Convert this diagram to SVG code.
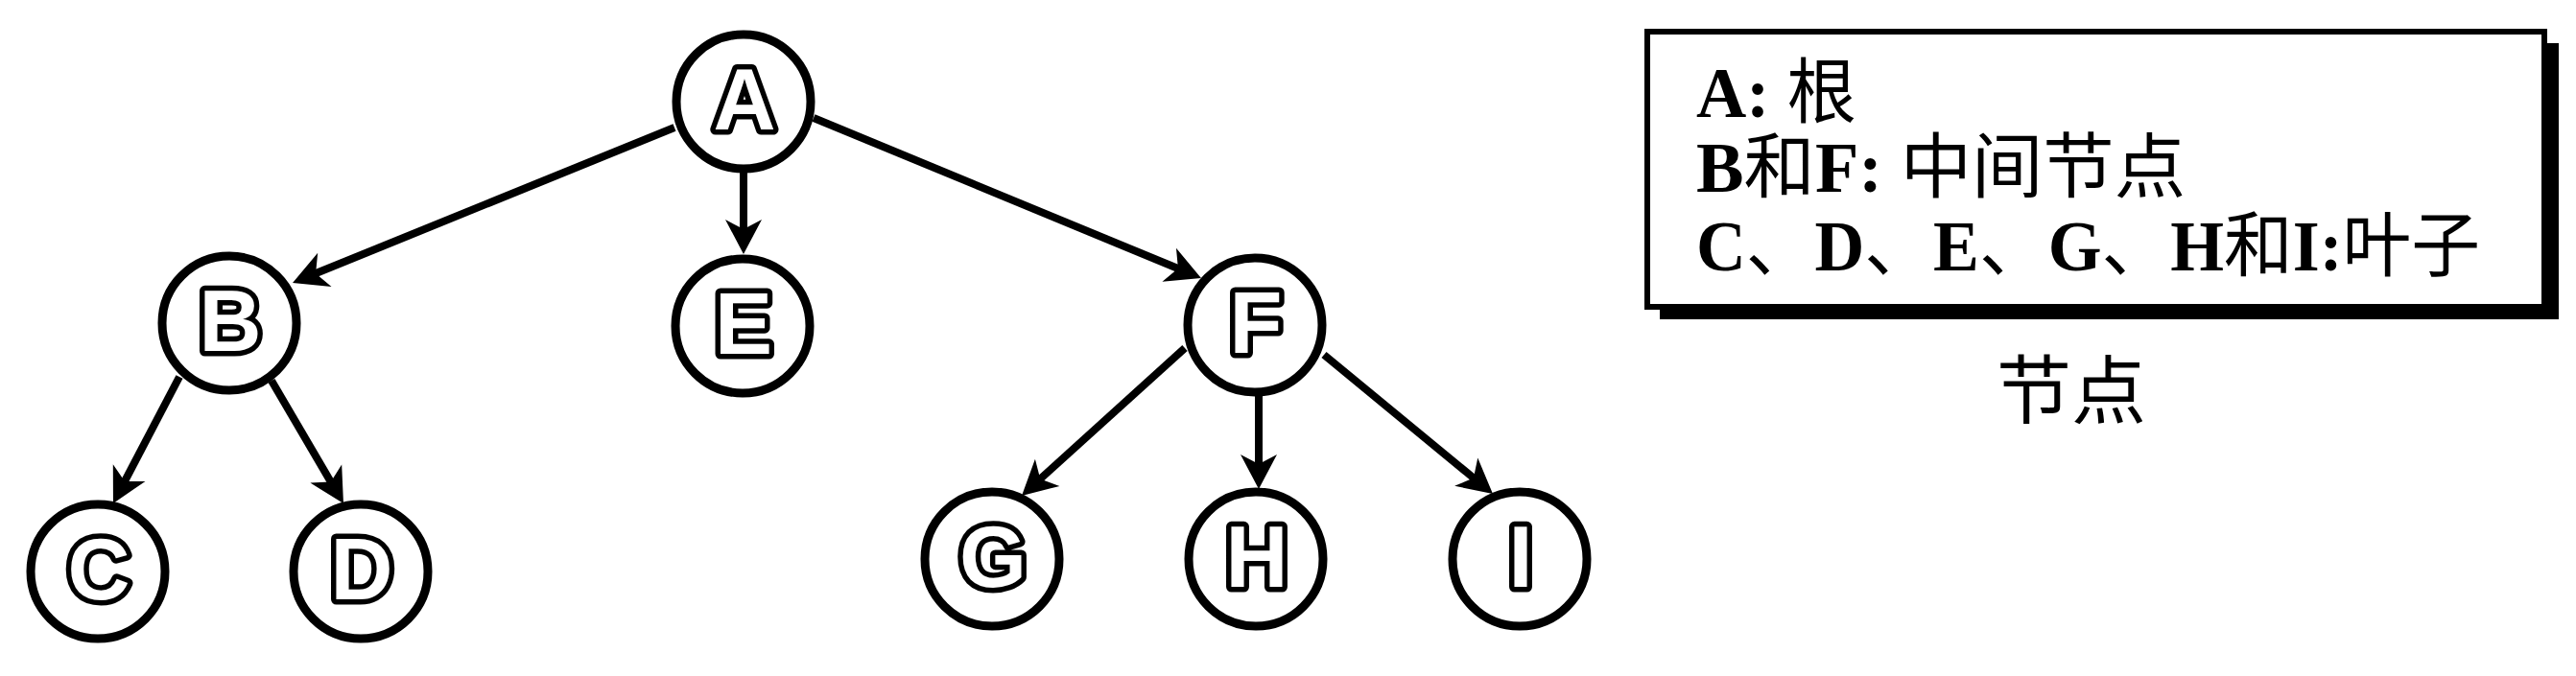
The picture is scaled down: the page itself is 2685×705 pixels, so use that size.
<svg xmlns="http://www.w3.org/2000/svg" width="2685" height="705" viewBox="0 0 2685 705">
<style>
.node circle{fill:#fff;stroke:#000;stroke-width:9}
.node text{font-family:"Liberation Sans",Arial,sans-serif;font-weight:bold;font-size:90px;fill:#fff;stroke:#000;stroke-width:11;paint-order:stroke;stroke-linejoin:round;text-anchor:middle}
.edge{stroke:#000;stroke-width:8;fill:none;marker-end:url(#arr)}
.legend{font-family:"Liberation Serif","Noto Sans CJK SC",serif;font-weight:bold;font-size:74px;fill:#000}
.cjk{font-family:"Noto Sans CJK SC",sans-serif;font-weight:normal}
.caption{font-family:"Noto Sans CJK SC",sans-serif;font-size:78px;fill:#000;text-anchor:middle}
</style>
<defs>
<marker id="arr" viewBox="-40 -22 42 44" refX="-15" refY="0" markerWidth="42" markerHeight="44" markerUnits="userSpaceOnUse" orient="auto">
<path d="M0,0 L-36,-19 L-26,0 L-36,19 Z" fill="#000"/>
</marker>
</defs>
<rect width="2685" height="705" fill="#fff"/>
<g id="connectors">
<line class="edge" x1="703" y1="133" x2="318.9" y2="289.3"/>
<line class="edge" x1="775" y1="177" x2="775" y2="250"/>
<line class="edge" x1="848" y1="123" x2="1238.1" y2="284.3"/>
<line class="edge" x1="187" y1="393" x2="124.9" y2="511.7"/>
<line class="edge" x1="283" y1="397" x2="350.4" y2="512.1"/>
<line class="edge" x1="1235" y1="363" x2="1076.1" y2="506.9"/>
<line class="edge" x1="1312" y1="412" x2="1312" y2="495"/>
<line class="edge" x1="1380" y1="370" x2="1544.4" y2="505.5"/>
</g>
<g id="node-A" class="node"><circle cx="775" cy="106" r="70"/><text x="776" y="135">A</text></g>
<g id="node-B" class="node"><circle cx="239" cy="337" r="70"/><text x="240" y="366">B</text></g>
<g id="node-E" class="node"><circle cx="774" cy="340" r="70"/><text x="775" y="369">E</text></g>
<g id="node-F" class="node"><circle cx="1308" cy="339" r="70"/><text x="1309" y="368">F</text></g>
<g id="node-C" class="node"><circle cx="102" cy="596" r="70"/><text x="103" y="625">C</text></g>
<g id="node-D" class="node"><circle cx="376" cy="596" r="70"/><text x="377" y="625">D</text></g>
<g id="node-G" class="node"><circle cx="1034" cy="583" r="70"/><text x="1035" y="612">G</text></g>
<g id="node-H" class="node"><circle cx="1309" cy="583" r="70"/><text x="1310" y="612">H</text></g>
<g id="node-I" class="node"><circle cx="1584" cy="583" r="70"/><text x="1585" y="612">I</text></g>
<g id="legend">
<rect x="1730" y="45" width="937" height="288" fill="#000"/>
<rect x="1717" y="33" width="935" height="287" fill="#fff" stroke="#000" stroke-width="6"/>
<text class="legend" x="1768" y="122" textLength="167" lengthAdjust="spacingAndGlyphs">A: <tspan class="cjk">根</tspan></text>
<text class="legend" x="1768" y="200" textLength="510" lengthAdjust="spacingAndGlyphs">B<tspan class="cjk">和</tspan>F: <tspan class="cjk">中间节点</tspan></text>
<text class="legend" x="1768" y="282" textLength="817" lengthAdjust="spacingAndGlyphs">C<tspan class="cjk">、</tspan>D<tspan class="cjk">、</tspan>E<tspan class="cjk">、</tspan>G<tspan class="cjk">、</tspan>H<tspan class="cjk">和</tspan>I:<tspan class="cjk">叶子</tspan></text>
</g>
<g id="caption"><text class="caption" x="2159" y="436">节点</text></g>
</svg>
